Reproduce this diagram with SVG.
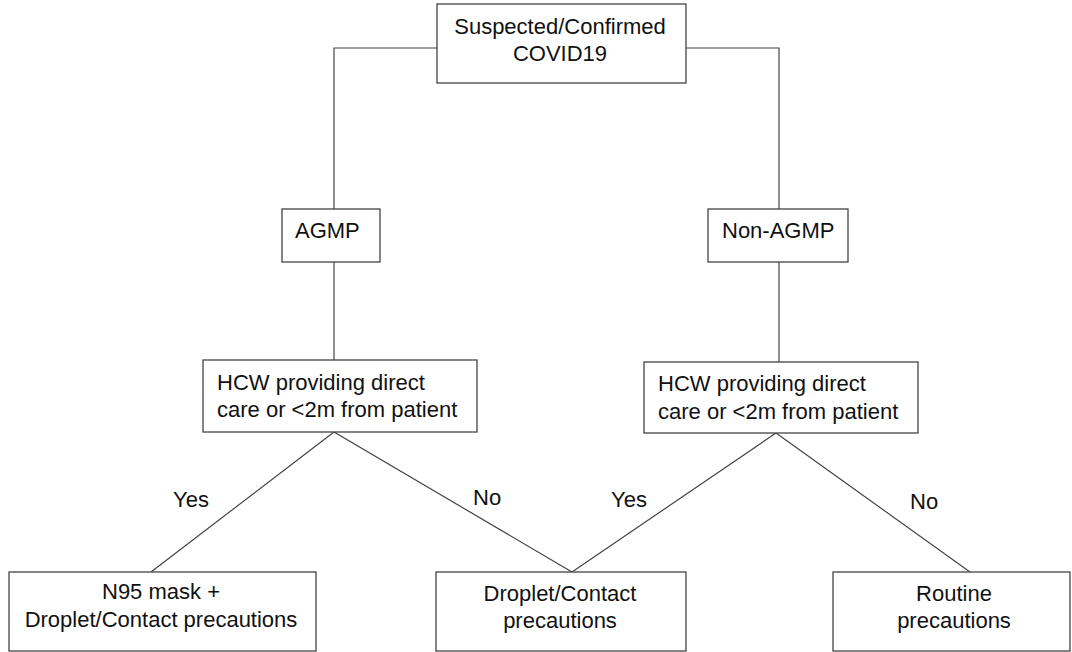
<svg xmlns="http://www.w3.org/2000/svg" width="1072" height="652" viewBox="0 0 1072 652">
<style>
.box{fill:#fff;stroke:#444;stroke-width:1.3}
.ln{fill:none;stroke:#444;stroke-width:1.2}
text{font-family:"Liberation Sans",Arial,sans-serif;font-size:22px;fill:#111}
.c{text-anchor:middle}
</style>
<rect width="1072" height="652" fill="#fff"/>
<g id="connectors">
<polyline class="ln" points="437,48 334,48 334,209"/>
<polyline class="ln" points="686,48 779,48 779,209"/>
<line class="ln" x1="334" y1="262" x2="334" y2="360"/>
<line class="ln" x1="779" y1="262" x2="779" y2="362"/>
<polyline class="ln" points="151,572 334,432 572,572"/>
<polyline class="ln" points="572,572 776,433 970,572"/>
<text x="173" y="507">Yes</text>
<text x="473" y="505">No</text>
<text x="611" y="507">Yes</text>
<text x="910" y="509">No</text>
</g>
<g id="start">
<rect class="box" x="437" y="4" width="249" height="79"/>
<text class="c" x="560" y="34">Suspected/Confirmed</text>
<text class="c" x="560" y="61">COVID19</text>
</g>
<g id="agmp">
<rect class="box" x="282" y="209" width="98" height="53"/>
<text x="295" y="238">AGMP</text>
</g>
<g id="nonagmp">
<rect class="box" x="708" y="209" width="140" height="53"/>
<text x="722" y="238">Non-AGMP</text>
</g>
<g id="hcw-left">
<rect class="box" x="203" y="360" width="274" height="72"/>
<text x="217" y="390">HCW providing direct</text>
<text x="217" y="417">care or &lt;2m from patient</text>
</g>
<g id="hcw-right">
<rect class="box" x="644" y="362" width="274" height="71"/>
<text x="658" y="391">HCW providing direct</text>
<text x="658" y="419">care or &lt;2m from patient</text>
</g>
<g id="n95">
<rect class="box" x="9" y="572" width="307" height="79"/>
<text class="c" x="161" y="599">N95 mask +</text>
<text class="c" x="161" y="627">Droplet/Contact precautions</text>
</g>
<g id="droplet">
<rect class="box" x="436" y="572" width="250" height="79"/>
<text class="c" x="560" y="601">Droplet/Contact</text>
<text class="c" x="560" y="628">precautions</text>
</g>
<g id="routine">
<rect class="box" x="833" y="572" width="237" height="79"/>
<text class="c" x="954" y="601">Routine</text>
<text class="c" x="954" y="628">precautions</text>
</g>
</svg>
